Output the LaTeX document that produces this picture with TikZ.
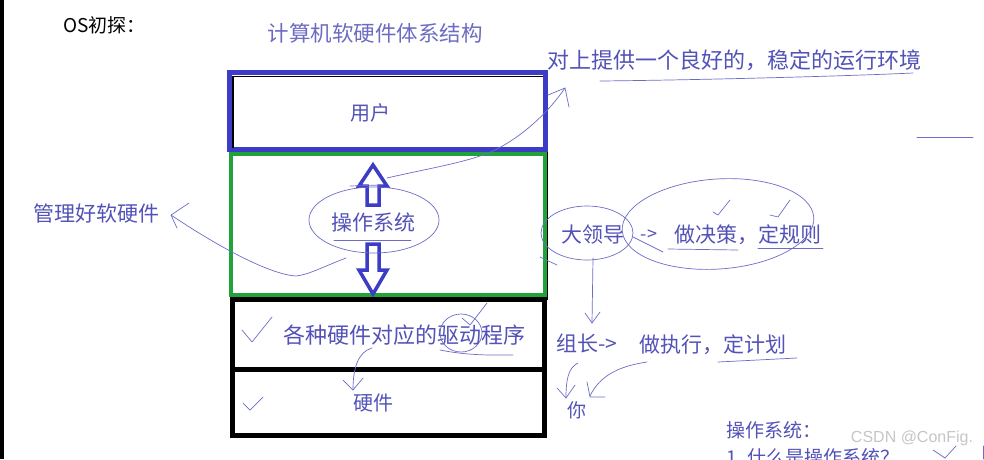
\documentclass[tikz,border=0pt]{standalone}
\usepackage{fontspec}
\newfontfamily\cjk{Noto Sans CJK SC}
\definecolor{pen}{HTML}{6C6CC8}
\definecolor{ink}{HTML}{5252B8}
\definecolor{boxblue}{HTML}{3C3CC6}
\definecolor{boxgreen}{HTML}{22A33A}
\tikzset{
  lbl/.style={font=\cjk\fontsize{21}{21}\selectfont, text=ink, inner sep=0pt},
  small/.style={font=\cjk\fontsize{19}{19}\selectfont, text=ink, inner sep=0pt},
  penline/.style={draw=pen, line width=0.7pt, line cap=round, line join=round},
  hollow/.style={draw=boxblue, line width=3.5pt, fill=white, line join=miter},
}
\begin{document}
\begin{tikzpicture}[x=1pt,y=-1pt]
\useasboundingbox (0,0) rectangle (984,459);
\fill[white] (0,0) rectangle (984,459);
\fill[black] (0,0) rectangle (3.5,459);

% boxes
\draw[black, line width=2pt] (547,150) -- (547,300);
\draw[boxgreen, line width=4.5pt] (231,154) rectangle (545,295);
\draw[boxblue, line width=5pt] (229.5,72.5) rectangle (545.5,149.5);
\draw[black, line width=1.5pt] (232.8,148) -- (232.8,76.5) -- (543,76.5);
\draw[black, line width=5pt] (232.5,299.5) rectangle (544.5,435.5);
\draw[black, line width=5pt] (232.5,369.5) -- (544.5,369.5);

% hollow arrows
\draw[hollow] (373,165) -- (387,186) -- (379,186) -- (379,205) -- (367,205) -- (367,186) -- (359,186) -- cycle;
\draw[hollow] (373,294) -- (387,270) -- (379,270) -- (379,244) -- (367,244) -- (367,270) -- (359,270) -- cycle;

% texts
\node[font=\cjk\fontsize{19}{19}\selectfont, inner sep=0pt, anchor=west] (os) at (63,25) {OS初探：};
\node[lbl, font=\cjk\fontsize{21.5}{21.5}\selectfont, text=ink!85] (title) at (375,33) {计算机软硬件体系结构};
\node[lbl, font=\cjk\fontsize{20}{20}\selectfont] (user) at (370,113) {用户};
\node[lbl] (ossys) at (373,222) {操作系统};
\node[lbl, font=\cjk\fontsize{22}{22}\selectfont] (driver) at (404,335) {各种硬件对应的驱动程序};
\node[lbl, font=\cjk\fontsize{20}{20}\selectfont] (hw) at (373,403) {硬件};
\node[lbl] (manage) at (96,213) {管理好软硬件};
\node[lbl, font=\cjk\fontsize{22}{22}\selectfont] (env) at (734,60) {对上提供一个良好的，稳定的运行环境};
\node[lbl] (boss) at (593,235) {大领导};
\node[lbl, font=\cjk\fontsize{18}{18}\selectfont] (ar1) at (649,235) {->};
\node[lbl] (decide) at (748,235) {做决策，定规则};
\node[lbl, anchor=west] (lead) at (556,343) {组长->};
\node[lbl] (exec) at (713,345) {做执行，定计划};
\node[lbl, font=\cjk\fontsize{19}{19}\selectfont] (you) at (577,410) {你};
\node[small, anchor=west] (os2) at (726,430) {操作系统：};
\node[small, anchor=west] (q1) at (726,457) {1. 什么是操作系统？};
\node[font=\fontspec{Liberation Sans}\fontsize{16}{16}\selectfont, text=gray!45, inner sep=0pt] (wm) at (912,438) {CSDN @ConFig.};

% pen strokes: OS ellipse and marks
\draw[penline] (374,220) ellipse [x radius=65, y radius=33];
\draw[penline] (334,240) -- (411,240);
\draw[penline] (350,186) -- (382,185);

% OS -> upper environment text
\coordinate (envtip) at (565,88);
\draw[penline] (387,178) .. controls (430,168) and (470,162) .. (495,150) .. controls (525,135) and (550,110) .. (envtip);
\draw[penline] (548,95) -- (envtip) -- (569,107);
\draw[penline] (600,81) .. controls (700,80) and (850,76) .. (913,73);
\draw[penline] (917,137) -- (973,137);

% OS -> manage text
\coordinate (mgtip) at (171,215);
\draw[penline] (346,258) .. controls (325,266) and (308,275) .. (296,276) .. controls (265,274) and (205,238) .. (mgtip);
\draw[penline] (189,203) -- (mgtip) -- (177,228);

% driver marks
\draw[penline] (242,330) -- (252,342) -- (272,317);
\draw[penline] (243,403) -- (250,410) -- (263,397);
\draw[penline] (461,333) ellipse [x radius=21, y radius=19];
\draw[penline] (462,318) -- (470,325) -- (487,303);
\draw[penline] (440,350) .. controls (470,356) and (495,355) .. (513,355);
\coordinate (hwtip) at (353,390);
\draw[penline] (372,348) .. controls (358,352) and (353,368) .. (hwtip);
\draw[penline] (343,380) -- (hwtip) -- (363,378);

% boss / decision
\draw[penline] (587,233) ellipse [x radius=46, y radius=27];
\draw[penline] (540,257) -- (557,265);
\draw[penline, rotate around={4:(718,224)}] (718,224) ellipse [x radius=96, y radius=45];
\draw[penline] (633,237) -- (663,252);
\draw[penline] (713,212) -- (718,215) -- (730,200);
\draw[penline] (770,215) -- (778,217) -- (790,200);
\draw[penline] (668,249) -- (738,250);
\draw[penline] (758,248) -- (823,248);
\coordinate (ldtip) at (592,323);
\draw[penline] (593,258) -- (ldtip);
\draw[penline] (585,313) -- (ldtip) -- (600,312);

% leader / you
\draw[penline] (718,362) -- (797,358);
\coordinate (y1) at (566,398);
\draw[penline] (578,363) .. controls (568,368) and (566,380) .. (y1);
\draw[penline] (557,388) -- (y1) -- (575,385);
\coordinate (y2) at (590,396);
\draw[penline] (647,362) .. controls (620,366) and (600,375) .. (y2);
\draw[penline] (587,382) -- (590,397) -- (605,397);
\draw[penline] (933,450) -- (945,458) -- (956,446);
\draw[penline] (983,446) -- (983,459);
\end{tikzpicture}
\end{document}
